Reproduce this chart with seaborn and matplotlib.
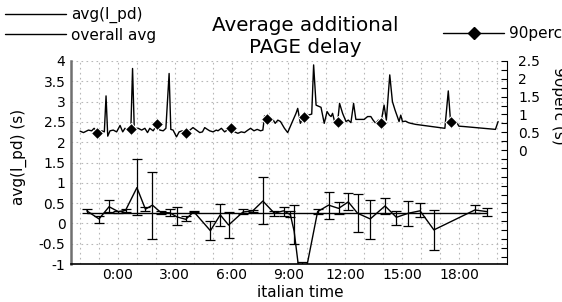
import matplotlib
matplotlib.use("Agg")
import matplotlib.pyplot as plt
from matplotlib.lines import Line2D
from matplotlib.ticker import MultipleLocator, FixedLocator, FuncFormatter
import seaborn as sns

# avg(I_pd) per time slot (hours, italian time) with min/max error bars
avg_h = [-1.65, -1.0, -0.47, 0.02, 0.4, 1.0, 1.45, 1.82, 2.26, 2.74, 3.12, 3.58, 4.0,
         4.88, 5.4, 5.84, 6.6, 7.12, 7.65, 8.26, 8.74, 9.1, 9.3, 9.7, 10.54, 11.12,
         11.65, 12.16, 12.65, 13.32, 14.1, 14.7, 15.33, 15.95, 16.68, 18.84, 19.5]
avg_v = [0.31, 0.11, 0.41, 0.29, 0.32, 0.88, 0.35, 0.45, 0.27, 0.26, 0.16, 0.10, 0.29,
         -0.18, 0.21, -0.04, 0.28, 0.31, 0.55, 0.25, 0.31, 0.22, -0.19, -1.7, 0.29, 0.45,
         0.37, 0.53, 0.25, 0.11, 0.43, 0.15, 0.25, 0.31, -0.16, 0.33, 0.29]
avg_lo = [0.25, 0.02, 0.27, 0.26, 0.27, 0.21, 0.30, -0.38, 0.24, 0.18, -0.03, 0.05, 0.27,
          -0.41, -0.07, -0.37, 0.24, 0.27, -0.02, 0.18, 0.19, 0.15, -0.5, -2.5, 0.24, 0.10,
          0.22, 0.32, -0.20, -0.38, 0.23, -0.05, -0.06, 0.15, -0.65, 0.25, 0.18]
avg_hi = [0.36, 0.17, 0.58, 0.31, 0.36, 1.59, 0.40, 1.27, 0.30, 0.35, 0.41, 0.17, 0.31,
          0.05, 0.47, 0.29, 0.36, 0.34, 1.15, 0.30, 0.40, 0.30, 0.45, -0.94, 0.36, 0.78,
          0.52, 0.75, 0.72, 0.58, 0.62, 0.30, 0.56, 0.50, 0.33, 0.45, 0.37]
overall_avg = 0.25

# 90th percentile (right axis)
perc_h = [-2.00, -1.82, -1.56, -1.39, -1.26, -1.09, -0.86, -0.72, -0.63, -0.54, -0.42,
          -0.25, -0.07, 0.11, 0.25, 0.37, 0.54, 0.68, 0.77, 0.86, 1.07, 1.25, 1.42, 1.56,
          1.68, 1.86, 2.07, 2.21, 2.39, 2.53, 2.70, 2.79, 2.91, 3.09, 3.23, 3.40, 3.58,
          3.75, 3.96, 4.14, 4.32, 4.46, 4.58, 4.72, 4.84, 5.02, 5.19, 5.28, 5.46, 5.63,
          5.95, 6.16, 6.33, 6.51, 6.68, 6.86, 7.00, 7.18, 7.35, 7.53, 7.65, 7.74, 7.88,
          8.00, 8.18, 8.30, 8.44, 8.58, 8.79, 8.96, 9.17, 9.40, 9.49, 9.63, 9.81, 9.93,
          10.05, 10.23, 10.33, 10.46, 10.72, 10.89, 11.04, 11.16, 11.25, 11.33, 11.46,
          11.60, 11.70, 11.86, 12.04, 12.16, 12.30, 12.44, 12.56, 13.00, 13.18, 13.35,
          13.47, 13.61, 13.75, 13.88, 14.05, 14.17, 14.35, 14.49, 14.63, 14.75, 14.84,
          14.93, 15.02, 15.19, 15.33, 15.46, 15.72, 17.26, 17.44, 17.56, 17.74, 17.86,
          18.00, 18.26, 19.93, 20.07]
perc_v = [0.53, 0.49, 0.56, 0.54, 0.61, 0.49, 0.54, 0.51, 1.52, 0.39, 0.54,
          0.56, 0.51, 0.69, 0.51, 0.61, 0.54, 0.58, 2.29, 0.61, 0.61, 0.56, 0.61, 0.49,
          0.61, 0.54, 0.72, 0.56, 0.54, 0.61, 2.15, 0.58, 0.56, 0.37, 0.51, 0.54, 0.47,
          0.54, 0.63, 0.56, 0.49, 0.51, 0.63, 0.58, 0.54, 0.51, 0.56, 0.54, 0.61, 0.51,
          0.63, 0.51, 0.47, 0.51, 0.49, 0.56, 0.61, 0.54, 0.58, 0.54, 0.56, 0.96, 0.86,
          0.82, 0.86, 0.75, 0.84, 0.80, 0.61, 0.49, 0.75, 1.03, 1.17, 0.75, 0.94, 0.89,
          0.98, 1.01, 2.39, 1.26, 1.20, 0.75, 1.08, 0.98, 0.94, 1.03, 0.75,
          0.80, 1.31, 1.03, 0.80, 0.84, 0.77, 1.31, 0.86, 0.86, 0.94, 0.94,
          0.84, 0.75, 0.84, 0.75, 1.26, 0.84, 2.11, 1.36, 1.12, 0.94, 0.80,
          0.98, 0.80, 0.81, 0.77, 0.75, 0.72, 0.61, 1.66, 0.80, 0.77, 0.80,
          0.67, 0.66, 0.58, 0.80]
perc_mark_h = [-1.09, 0.68, 2.07, 3.58, 5.95, 7.88, 9.81, 11.60, 13.88, 17.56]

hour_ticks = [0, 3, 6, 9, 12, 15, 18]
hour_labels = ["0:00", "3:00", "6:00", "9:00", "12:00", "15:00", "18:00"]
perc_ticks = [0, 0.5, 1, 1.5, 2, 2.5]

sns.set_style("white")
plt.rcParams['font.family'] = ['DejaVu Sans']
plt.rcParams.update({'text.color': 'black', 'axes.labelcolor': 'black',
                     'xtick.color': 'black', 'ytick.color': 'black'})

fig = plt.figure(figsize=(5.62, 3.02), dpi=100)
ax = fig.add_axes([71 / 562, 1 - 264 / 302, (507 - 71) / 562, 203 / 302])
ax2 = ax.twinx()

grid_kw = dict(color='#b8b8b8', lw=0.8, ls=(0, (1.5, 3)))
ax.set_axisbelow(True)
ax.grid(which='both', axis='x', **grid_kw)
ax.grid(which='major', axis='y', **grid_kw)

# avg(I_pd) with error bars
sns.lineplot(x=avg_h, y=avg_v, ax=ax, color='black', lw=1, estimator=None, sort=False)
yerr = [[v - lo for v, lo in zip(avg_v, avg_lo)], [hi - v for v, hi in zip(avg_v, avg_hi)]]
ax.errorbar(avg_h, avg_v, yerr=yerr, fmt='none', ecolor='black', elinewidth=0.9,
            capsize=3.5, capthick=0.9)
sns.lineplot(x=[avg_h[0], avg_h[-1]], y=[overall_avg, overall_avg], ax=ax,
             color='black', lw=1, estimator=None)

# 90perc on right axis
marks = [perc_h.index(h) for h in perc_mark_h]
sns.lineplot(x=perc_h, y=perc_v, ax=ax2, color='black', lw=1, marker='D', markersize=6,
             markevery=marks, estimator=None, sort=False)

ax.set_xlim(-2.48, 20.54)
ax.set_ylim(-1, 4)
ax2.set_ylim(-3.2, 2.5)

ax.xaxis.set_major_locator(FixedLocator(hour_ticks))
ax.set_xticklabels(hour_labels)
ax.xaxis.set_minor_locator(MultipleLocator(1))
ax.yaxis.set_major_locator(MultipleLocator(0.5))
ax.yaxis.set_major_formatter(FuncFormatter(lambda v, p: '%g' % v))
ax.tick_params(axis='x', which='major', direction='in', length=5, width=0.8,
               labelsize=10, pad=3)
ax.tick_params(axis='x', which='minor', direction='in', length=3, width=0.8)
ax.tick_params(axis='y', which='major', direction='in', length=0, labelsize=10, pad=4)

ax2.yaxis.set_major_locator(FixedLocator(perc_ticks))
ax2.yaxis.set_major_formatter(FuncFormatter(lambda v, p: '%g' % v))
ax2.yaxis.set_minor_locator(MultipleLocator(0.25))
ax2.tick_params(axis='y', which='both', direction='in', length=4, width=0.8,
                labelsize=10, pad=8)

for s in ['top', 'right']:
    ax.spines[s].set_visible(False)
for s in ['top', 'left', 'bottom']:
    ax2.spines[s].set_visible(False)
ax.spines['left'].set_color('#707070')
ax.spines['left'].set_linewidth(1.8)
ax.spines['bottom'].set_color('black')
ax.spines['bottom'].set_linewidth(1.2)
ax2.spines['right'].set_color('black')
ax2.spines['right'].set_linewidth(0.8)

ax.set_xlabel("italian time", fontsize=11)
ax.xaxis.set_label_coords((300 - 71) / 436, -0.102)
ax.set_ylabel("avg(I_pd) (s)", fontsize=11)
ax.yaxis.set_label_coords(-0.10, 0.527)
ax2.set_ylabel("90perc (s)", fontsize=11, rotation=-90, va='bottom')
ax2.yaxis.set_label_coords(1.100, 0.78)

ax.set_title("Average additional\nPAGE delay", fontsize=14.3, x=(305 - 71) / 436, pad=6)

h1 = Line2D([], [], color='black', lw=1)
h2 = Line2D([], [], color='black', lw=1)
fig.legend([h1, h2], ["avg(I_pd)", "overall avg"], loc='upper left',
           bbox_to_anchor=(5 / 562, 1 - 7 / 302), frameon=False, fontsize=11,
           handlelength=4.0, handletextpad=0.35, labelspacing=0.3, borderpad=0,
           borderaxespad=0)
h3 = Line2D([], [], color='black', lw=1, marker='D', markersize=6)
fig.legend([h3], ["90perc"], loc='upper left', bbox_to_anchor=(443 / 562, 1 - 26 / 302),
           frameon=False, fontsize=11, handlelength=4.0, handletextpad=0.35,
           borderpad=0, borderaxespad=0)

fig.savefig("out.png", dpi=100)
